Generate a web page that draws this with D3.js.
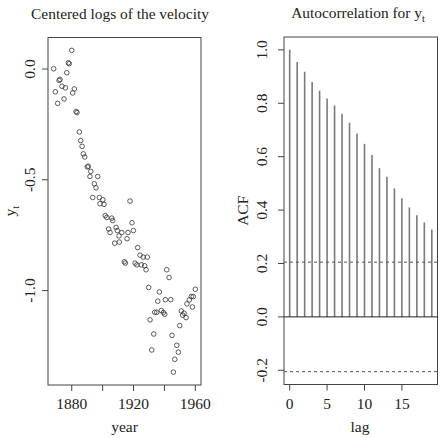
<!DOCTYPE html>
<html><head><meta charset="utf-8">
<script src="https://cdn.jsdelivr.net/npm/d3@7"></script>
<style>body{margin:0;background:#fff}svg{display:block}</style>
</head><body><svg id="c" width="444" height="438" font-family="'Liberation Serif','DejaVu Serif','Times New Roman',serif"></svg>
<script>
// ---- data ----
const years = [1880.0,1877.8,1878.4,1868.3,1876.8,1872.4,1871.8,1873.7,1875.9,1881.7,1880.6,1869.4,1875.0,1870.9,1882.8,1883.4,
1884.9,1885.8,1886.7,1887.5,1888.4,1890.7,1890.1,1892.3,1896.8,1891.8,1894.6,1895.7,1893.6,1897.9,1900.1,1898.3,1900.9,1917.7,
1901.7,1902.7,1905.9,1906.5,1919.0,1908.7,1909.5,1903.9,1904.8,1912.4,1916.4,1919.9,1910.6,1915.8,1907.8,1910.8,1922.7,1924.2,
1926.3,1928.9,1914.0,1914.7,1921.0,1922.1,1925.0,1927.2,1928.1,1941.5,1943.0,1929.8,1936.7,1935.7,1940.6,1944.1,1960.0,1957.4,
1958.7,1956.1,1954.6,1958.1,1933.7,1935.0,1938.0,1939.3,1940.2,1950.9,1952.7,1951.8,1954.0,1930.7,1949.9,1933.1,1944.9,1948.0,
1949.0,1931.8,1946.7,1945.8];
const logVelocity = [0.084,0.028,0.024,0.001,-0.017,-0.047,-0.052,-0.078,-0.085,-0.090,-0.108,-0.103,-0.135,-0.155,-0.192,-0.197,
-0.284,-0.323,-0.349,-0.383,-0.397,-0.439,-0.442,-0.462,-0.485,-0.485,-0.518,-0.536,-0.580,-0.580,-0.590,-0.608,-0.611,-0.596,
-0.662,-0.670,-0.673,-0.684,-0.694,-0.715,-0.729,-0.722,-0.738,-0.738,-0.738,-0.729,-0.753,-0.766,-0.786,-0.781,-0.806,-0.840,
-0.849,-0.849,-0.870,-0.876,-0.876,-0.884,-0.884,-0.888,-0.906,-0.906,-0.941,-0.986,-1.006,-1.048,-1.041,-1.041,-0.994,-1.027,
-1.027,-1.042,-1.060,-1.074,-1.098,-1.098,-1.090,-1.099,-1.107,-1.092,-1.102,-1.111,-1.122,-1.132,-1.158,-1.196,-1.202,-1.247,
-1.278,-1.268,-1.310,-1.368];
const lags = d3.range(0, 20);
const acfValues = [1.0,0.955,0.918,0.880,0.847,0.818,0.792,0.761,0.727,0.687,0.648,0.606,0.557,0.525,0.481,0.444,0.410,0.381,0.354,0.327];
const ciBound = 0.205;
const yearTicks = [1880,1900,1920,1940,1960];
const yearTickLabels = ["1880","","1920","","1960"];
const logTicks = [0.0,-0.5,-1.0];
const logTickLabels = ["0.0","-0.5","-1.0"];
const lagTicks = [0,5,10,15];
const acfTicks = [1.0,0.8,0.6,0.4,0.2,0.0,-0.2];
const acfTickLabels = ["1.0","0.8","0.6","0.4","0.2","0.0","-0.2"];

// ---- helpers ----
const svg = d3.select("#c");
const FS = 15.5;
function ext(lo, hi){ const d=(hi-lo)*0.04; return [lo-d, hi+d]; }
const AX = "#444";

function frame(g, x, y, xt, xtl, yt, ytl, yLabX){
  const [x0,x1] = x.range(), [y0,y1] = y.range();
  g.append("rect").attr("x",x0).attr("y",y1).attr("width",x1-x0).attr("height",y0-y1)
    .attr("fill","none").attr("stroke",AX).attr("stroke-width",1);
  xt.forEach((t,i)=>{
    g.append("line").attr("x1",x(t)).attr("x2",x(t)).attr("y1",y0).attr("y2",y0+6).attr("stroke",AX);
    if (xtl[i]) g.append("text").attr("x",x(t)).attr("y",y0+24).attr("text-anchor","middle").attr("font-size",FS).attr("fill","#222").text(xtl[i]);
  });
  yt.forEach((t,i)=>{
    g.append("line").attr("x1",x0-6).attr("x2",x0).attr("y1",y(t)).attr("y2",y(t)).attr("stroke",AX);
    g.append("text").attr("transform",`translate(${yLabX},${y(t)}) rotate(-90)`).attr("text-anchor","middle")
      .attr("font-size",FS).attr("fill","#222").text(ytl[i]);
  });
}

// ---- left panel ----
const xL = d3.scaleLinear().domain(ext(d3.min(years), d3.max(years))).range([48, 201]);
const yL = d3.scaleLinear().domain(ext(d3.min(logVelocity), d3.max(logVelocity))).range([385, 37.5]);
const gL = svg.append("g");
frame(gL, xL, yL, yearTicks, yearTickLabels, logTicks, logTickLabels, 35);
gL.selectAll("circle.p").data(years).join("circle").attr("class","p")
  .attr("cx",(d)=>xL(d)).attr("cy",(d,i)=>yL(logVelocity[i])).attr("r",2.3)
  .attr("fill","none").attr("stroke","#333").attr("stroke-width",0.8);
gL.append("text").attr("x",120).attr("y",19).attr("text-anchor","middle").attr("font-size",15.4).attr("fill","#222").text("Centered logs of the velocity");
gL.append("text").attr("x",124.5).attr("y",432).attr("text-anchor","middle").attr("font-size",FS).attr("fill","#222").text("year");
const yl = gL.append("text").attr("transform",`translate(15,${(385+37.5)/2}) rotate(-90)`).attr("text-anchor","middle").attr("font-size",FS).attr("fill","#222");
yl.append("tspan").text("y");
yl.append("tspan").attr("font-size",10).attr("dy",4).text("t");

// ---- right panel ----
const xR = d3.scaleLinear().domain(ext(0, 19)).range([284, 437.5]);
const yR = d3.scaleLinear().domain(ext(Math.min(-ciBound, d3.min(acfValues)), d3.max(acfValues))).range([384.5, 37]);
const gR = svg.append("g");
frame(gR, xR, yR, lagTicks, lagTicks.map(String), acfTicks, acfTickLabels, 267);
gR.selectAll("line.bar").data(lags).join("line").attr("class","bar")
  .attr("x1",d=>xR(d)).attr("x2",d=>xR(d)).attr("y1",yR(0)).attr("y2",(d,i)=>yR(acfValues[i]))
  .attr("stroke","#7a7a7a").attr("stroke-width",1.6);
gR.append("line").attr("x1",xR.range()[0]).attr("x2",xR.range()[1]).attr("y1",yR(0)).attr("y2",yR(0)).attr("stroke","#222").attr("stroke-width",1);
[ciBound,-ciBound].forEach(c=>{
  gR.append("line").attr("x1",xR.range()[0]).attr("x2",xR.range()[1]).attr("y1",yR(c)).attr("y2",yR(c))
    .attr("stroke","#4a5088").attr("stroke-width",1).attr("stroke-dasharray","3,3");
});
const tR = gR.append("text").attr("x",358).attr("y",18).attr("text-anchor","middle").attr("font-size",15.4).attr("fill","#222");
tR.append("tspan").text("Autocorrelation for y");
tR.append("tspan").attr("font-size",10.5).attr("dy",4).text("t");
gR.append("text").attr("x",360).attr("y",432).attr("text-anchor","middle").attr("font-size",FS).attr("fill","#222").text("lag");
gR.append("text").attr("transform",`translate(248,${(384.5+37)/2}) rotate(-90)`).attr("text-anchor","middle").attr("font-size",FS).attr("fill","#222").text("ACF");
</script></body></html>
